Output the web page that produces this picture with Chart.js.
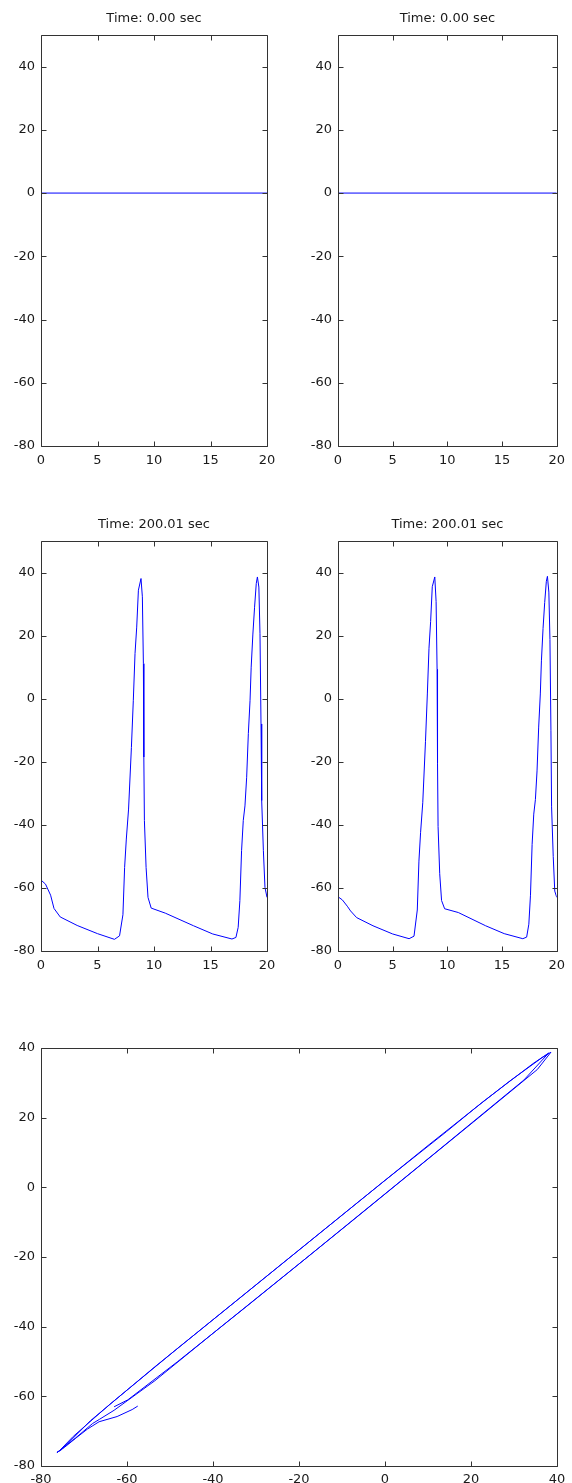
<!DOCTYPE html>
<html>
<head>
<meta charset="utf-8">
<script src="https://cdn.jsdelivr.net/npm/chart.js@4.4.1/dist/chart.umd.min.js"></script>
<style>
  html, body { margin: 0; padding: 0; background: #fff; }
  body { width: 572px; height: 1483px; position: relative; overflow: hidden; }
  .panel { position: absolute; }
</style>
</head>
<body>
<div class="panel" style="left:0;top:0;width:286px;height:480px"><canvas id="c1"></canvas></div>
<div class="panel" style="left:286px;top:0;width:286px;height:480px"><canvas id="c2"></canvas></div>
<div class="panel" style="left:0;top:506px;width:286px;height:479px"><canvas id="c3"></canvas></div>
<div class="panel" style="left:286px;top:506px;width:286px;height:479px"><canvas id="c4"></canvas></div>
<div class="panel" style="left:0;top:1030px;width:572px;height:453px"><canvas id="c5"></canvas></div>
<script>
// Titles and ticks
const startTitle = "Time: 0.00 sec";
const endTitle = "Time: 200.01 sec";
const timeTicks = [0, 5, 10, 15, 20];
const voltTicks = [-80, -60, -40, -20, 0, 20, 40];
const phaseTicks = [-80, -60, -40, -20, 0, 20, 40];

// t = 0: both cells flat at 0
const flatTime = [0, 20];
const flatVoltage = [0, 0];

// t = 200.01: the 20 sec window of both cells
const timeSec = [0, 0.4, 0.85, 1.15, 1.7, 3.2, 5.0, 6.5, 6.95, 7.25, 7.4, 7.55, 7.75, 8.0, 8.17,
    8.32, 8.47, 8.62, 8.85, 8.97, 9.06, 9.1, 9.15, 9.3, 9.47, 9.75, 11.0, 13.5, 15.2, 16.9, 17.25,
    17.45, 17.6, 17.75, 17.9, 18.05, 18.2, 18.35, 18.5, 18.6, 18.75, 18.9, 19.05, 19.15, 19.28,
    19.38, 19.47, 19.53, 19.68, 19.82, 20.0];
const voltageLeft = [-57.5, -58.8, -62.3, -66.5, -69.2, -71.9, -74.5, -76.3, -75.2, -68.5, -53.5,
    -44.5, -35, -15.5, -0.5, 14.3, 22.7, 34.4, 38.1, 32.3, 11.1, -18.5, -38.6, -53.5, -63, -66.4,
    -68, -72, -74.6, -76.2, -75.7, -72.5, -64, -48.2, -38.6, -34, -24.9, -11, -0.5, 10, 20.5, 29,
    36.5, 38.6, 35.4, 20.6, -8, -32.3, -48.2, -59.8, -63];
const voltageRight = [-62.8, -63.8, -65.8, -67.3, -69.4, -72, -74.6, -76.1, -75.3, -67, -51.5,
    -42.5, -33, -13.5, 1.5, 16, 24.5, 35.5, 38.6, 30.8, 9.3, -20.5, -40.5, -55.5, -64, -66.6,
    -67.8, -72, -74.5, -76.1, -75.6, -71.5, -62.3, -46.2, -36.6, -32, -22.9, -9, 1.5, 12, 22.3,
    30.5, 37.2, 38.8, 33.8, 18.8, -10, -34.3, -50, -61, -63];

Chart.defaults.font.family = "'DejaVu Sans', sans-serif";
Chart.defaults.font.size = 13;
Chart.defaults.color = "#1a1a1a";

// MATLAB-like frame: box with inward tick marks on every side, title over the plot
const boxPlugin = {
    id: "box",
    afterDraw(chart, args, opts) {
        const { ctx, chartArea: a } = chart;
        const x = chart.scales.x, y = chart.scales.y;
        const L = Math.round(a.left) + 0.5, R = Math.round(a.right) + 0.5;
        const T = Math.round(a.top) + 0.5, B = Math.round(a.bottom) + 0.5;
        ctx.save();
        ctx.strokeStyle = "#333";
        ctx.lineWidth = 1;
        ctx.beginPath();
        ctx.rect(L, T, R - L, B - T);
        x.ticks.forEach((t) => {
            const px = Math.round(x.getPixelForValue(t.value)) + 0.5;
            ctx.moveTo(px, B); ctx.lineTo(px, B - 5);
            ctx.moveTo(px, T); ctx.lineTo(px, T + 5);
        });
        y.ticks.forEach((t) => {
            const py = Math.round(y.getPixelForValue(t.value)) + 0.5;
            ctx.moveTo(L, py); ctx.lineTo(L + 5, py);
            ctx.moveTo(R, py); ctx.lineTo(R - 5, py);
        });
        ctx.stroke();
        if (opts.title) {
            ctx.fillStyle = "#1a1a1a";
            ctx.font = "13px 'DejaVu Sans', sans-serif";
            ctx.textAlign = "center";
            ctx.textBaseline = "middle";
            ctx.fillText(opts.title, (a.left + a.right) / 2, a.top - 16.5);
        }
        ctx.restore();
    }
};

function makeChart(id, cfg) {
    return new Chart(document.getElementById(id), {
        type: "scatter",
        data: {
            datasets: [{
                data: cfg.points,
                showLine: true,
                borderColor: "#0000ff",
                borderWidth: 1,
                pointRadius: 0,
                tension: 0
            }]
        },
        options: {
            responsive: true,
            maintainAspectRatio: false,
            animation: false,
            events: [],
            layout: { autoPadding: false, padding: { left: 0, right: cfg.padRight, top: cfg.padTop, bottom: 0 } },
            plugins: {
                legend: { display: false },
                tooltip: { enabled: false },
                box: { title: cfg.title }
            },
            scales: {
                x: {
                    type: "linear",
                    min: cfg.xMin, max: cfg.xMax,
                    grid: { display: false, drawTicks: false },
                    border: { display: false },
                    ticks: { padding: cfg.xPad, maxRotation: 0 },
                    afterBuildTicks: (s) => { s.ticks = cfg.xTicks.map((v) => ({ value: v })); },
                    afterFit: (s) => { s.height = cfg.xHeight; }
                },
                y: {
                    type: "linear",
                    min: cfg.yMin, max: cfg.yMax,
                    grid: { display: false, drawTicks: false },
                    border: { display: false },
                    ticks: { padding: 6 },
                    afterBuildTicks: (s) => { s.ticks = cfg.yTicks.map((v) => ({ value: v })); },
                    afterFit: (s) => { s.width = cfg.yWidth; }
                }
            }
        },
        plugins: [boxPlugin]
    });
}

const flatPoints = flatTime.map((t, i) => ({ x: t, y: flatVoltage[i] }));
const leftPoints = timeSec.map((t, i) => ({ x: t, y: voltageLeft[i] }));
const rightPoints = timeSec.map((t, i) => ({ x: t, y: voltageRight[i] }));
const phasePoints = voltageLeft.map((v, i) => ({ x: v, y: voltageRight[i] }));

const timeBase = { xMin: 0, xMax: 20, yMin: -80, yMax: 50, xTicks: timeTicks, yTicks: voltTicks, padTop: 35, xHeight: 34, xPad: 7 };

makeChart("c1", { ...timeBase, title: startTitle, points: flatPoints, yWidth: 41, padRight: 19 });
makeChart("c2", { ...timeBase, title: startTitle, points: flatPoints, yWidth: 52, padRight: 8 });
makeChart("c3", { ...timeBase, title: endTitle, points: leftPoints, yWidth: 41, padRight: 19 });
makeChart("c4", { ...timeBase, title: endTitle, points: rightPoints, yWidth: 52, padRight: 8 });
makeChart("c5", {
    title: "", points: phasePoints,
    xMin: -80, xMax: 40, yMin: -80, yMax: 40, xTicks: phaseTicks, yTicks: phaseTicks,
    yWidth: 41, padRight: 15, padTop: 18, xHeight: 17, xPad: 6
});
</script>
</body>
</html>
